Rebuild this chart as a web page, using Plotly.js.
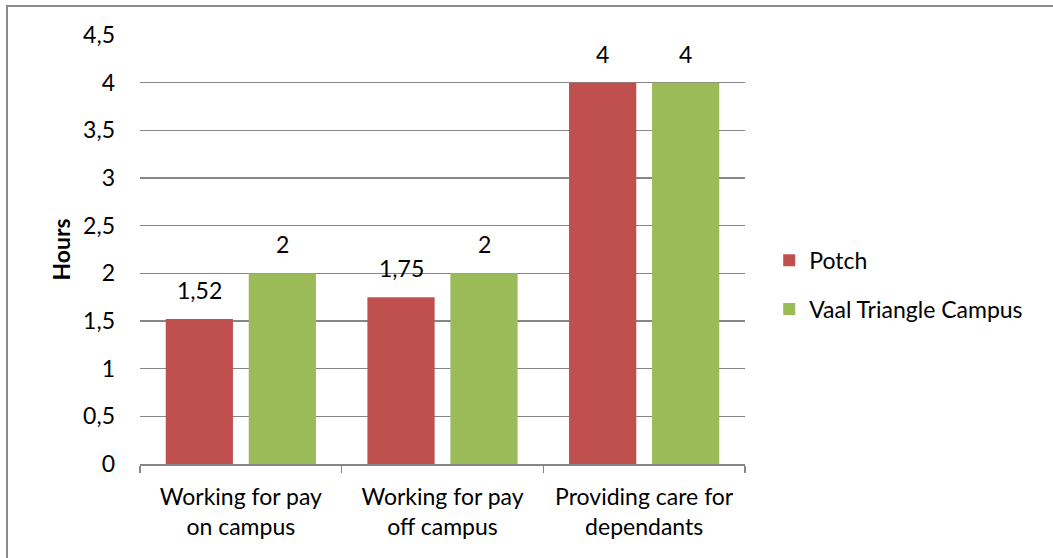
<!DOCTYPE html>
<html>
<head>
<meta charset="utf-8">
<script src="https://cdn.plot.ly/plotly-3.0.1.min.js"></script>
<style>
html,body{margin:0;padding:0;background:#fff;}
#frame{position:absolute;left:6px;top:5px;width:1100px;height:600px;border-left:2px solid #8c8c8c;border-top:2px solid #8c8c8c;box-sizing:border-box;pointer-events:none;z-index:10;}
#chart{width:1053px;height:558px;}
</style>
</head>
<body>
<div id="frame"></div>
<div id="chart"></div>
<script>
var categories = ["Working for pay<br>on campus", "Working for pay<br>off campus", "Providing care for<br>dependants"];
var potchValues = [1.52, 1.75, 4];
var vaalValues = [2, 2, 4];
var seriesNames = ["Potch", "Vaal Triangle Campus"];
var yTicks = [0, 0.5, 1, 1.5, 2, 2.5, 3, 3.5, 4, 4.5];

var font = "Lato, 'Open Sans', sans-serif";
var fs = 23;
function lbl(v){ return String(v).replace('.', ','); }

var traces = [
  {type:'bar', name:seriesNames[0], x:categories, y:potchValues, legendgroup:'a',
   marker:{color:'#C0504D'}, hoverinfo:'none'},
  {type:'bar', name:seriesNames[1], x:categories, y:vaalValues, legendgroup:'b',
   marker:{color:'#9BBB59'}, hoverinfo:'none'}
];

// value labels above bars, placed via the axis scales
var annotations = [];
[[potchValues, -41.5], [vaalValues, 41.5]].forEach(function(s){
  s[0].forEach(function(v, i){
    annotations.push({x:categories[i], y:v, xref:'x', yref:'y', text:lbl(v),
      showarrow:false, xshift:s[1], yshift:29, yanchor:'middle',
      font:{size:fs, family:font, color:'#000'}});
  });
});

var layout = {
  width:1053, height:558,
  margin:{l:140, r:308, t:35, b:94},
  paper_bgcolor:'#fff', plot_bgcolor:'#fff',
  separators:',.',
  font:{family:font, size:fs, color:'#000'},
  barmode:'group', bargap:0.177, bargroupgap:0.19,
  showlegend:true,
  annotations:annotations,
  legend:{x:1.04, y:0.418, xanchor:'left', yanchor:'middle', font:{size:fs, family:font},
          tracegroupgap:16, itemwidth:30, bgcolor:'rgba(0,0,0,0)'},
  xaxis:{type:'category', showline:true, linecolor:'#868686', linewidth:1.5,
         ticks:'outside', tickson:'boundaries', ticklen:7, tickcolor:'#868686', tickwidth:1.5,
         ticklabelstandoff:12,
         tickfont:{size:fs, family:font}, showgrid:false},
  yaxis:{range:[0,4.5], tickvals:yTicks, ticktext:yTicks.map(lbl), showgrid:true,
         gridcolor:'#868686', gridwidth:1.3, zeroline:false, showline:false,
         ticks:'', ticklen:0, ticklabelstandoff:24, tickfont:{size:fs, family:font},
         title:{text:'<b>Hours</b>', font:{size:fs, family:font}, standoff:6}}
};

Plotly.newPlot('chart', traces, layout, {displayModeBar:false, staticPlot:true});
</script>
</body>
</html>
